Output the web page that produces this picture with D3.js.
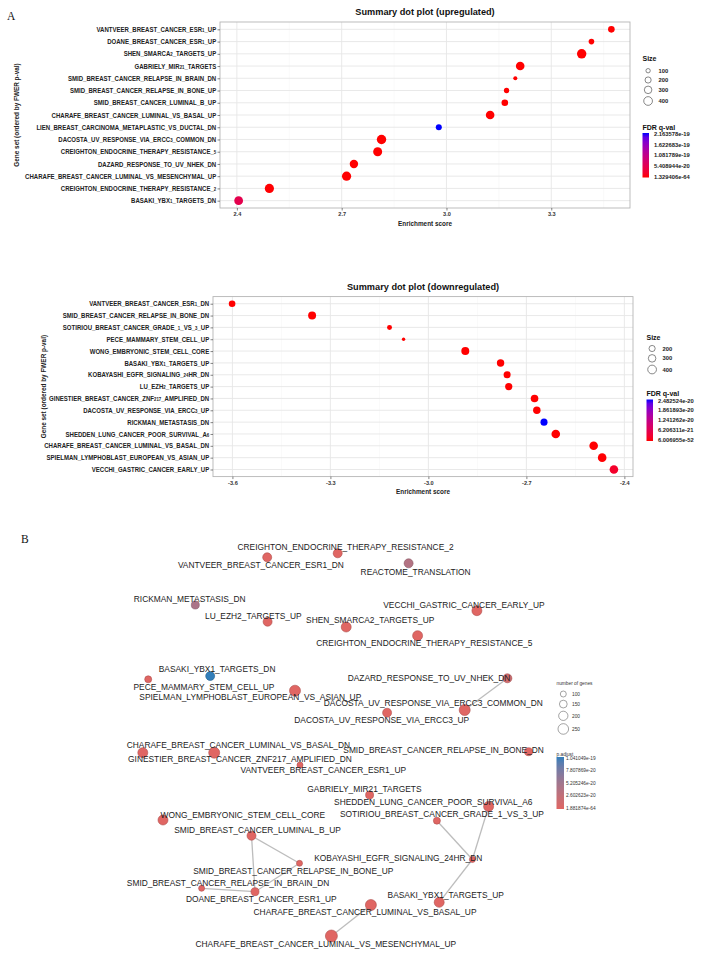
<!DOCTYPE html>
<html><head><meta charset="utf-8">
<script src="https://cdn.jsdelivr.net/npm/d3@7"></script>
<style>body{margin:0;background:#fff;} svg{display:block;}</style>
</head><body><svg id="c" width="704" height="954"></svg>
<script>
// ---------------- DATA ----------------
const upSets = ["VANTVEER_BREAST_CANCER_ESR1_UP","DOANE_BREAST_CANCER_ESR1_UP","SHEN_SMARCA2_TARGETS_UP","GABRIELY_MIR21_TARGETS","SMID_BREAST_CANCER_RELAPSE_IN_BRAIN_DN","SMID_BREAST_CANCER_RELAPSE_IN_BONE_UP","SMID_BREAST_CANCER_LUMINAL_B_UP","CHARAFE_BREAST_CANCER_LUMINAL_VS_BASAL_UP","LIEN_BREAST_CARCINOMA_METAPLASTIC_VS_DUCTAL_DN","DACOSTA_UV_RESPONSE_VIA_ERCC3_COMMON_DN","CREIGHTON_ENDOCRINE_THERAPY_RESISTANCE_5","DAZARD_RESPONSE_TO_UV_NHEK_DN","CHARAFE_BREAST_CANCER_LUMINAL_VS_MESENCHYMAL_UP","CREIGHTON_ENDOCRINE_THERAPY_RESISTANCE_2","BASAKI_YBX1_TARGETS_DN"];
const upES = [3.472, 3.415, 3.387, 3.211, 3.197, 3.172, 3.167, 3.125, 2.978, 2.814, 2.803, 2.735, 2.714, 2.493, 2.405];
const upSize = [230, 165, 465, 390, 85, 150, 230, 390, 190, 465, 425, 370, 445, 445, 405];
const upFDR = [1.329406e-64, 3.1e-45, 2.2e-38, 6.5e-33, 4.0e-30, 1.2e-28, 8.7e-27, 3.3e-25, 2.163578e-19, 1.5e-24, 4.4e-23, 9.8e-23, 2.1e-22, 6.0e-22, 5.2e-20];
const upTicks = [2.4, 2.7, 3.0, 3.3];
const upMinor = [2.55, 2.85, 3.15, 3.45];
const upSizeBreaks = [100, 200, 300, 400];
const upFDRLabels = ["2.163578e-19","1.622683e-19","1.081789e-19","5.408944e-20","1.329406e-64"];

const downSets = ["VANTVEER_BREAST_CANCER_ESR1_DN","SMID_BREAST_CANCER_RELAPSE_IN_BONE_DN","SOTIRIOU_BREAST_CANCER_GRADE_1_VS_3_UP","PECE_MAMMARY_STEM_CELL_UP","WONG_EMBRYONIC_STEM_CELL_CORE","BASAKI_YBX1_TARGETS_UP","KOBAYASHI_EGFR_SIGNALING_24HR_DN","LU_EZH2_TARGETS_UP","GINESTIER_BREAST_CANCER_ZNF217_AMPLIFIED_DN","DACOSTA_UV_RESPONSE_VIA_ERCC3_UP","RICKMAN_METASTASIS_DN","SHEDDEN_LUNG_CANCER_POOR_SURVIVAL_A6","CHARAFE_BREAST_CANCER_LUMINAL_VS_BASAL_DN","SPIELMAN_LYMPHOBLAST_EUROPEAN_VS_ASIAN_UP","VECCHI_GASTRIC_CANCER_EARLY_UP"];
const downES = [-3.601, -3.356, -3.119, -3.076, -2.887, -2.779, -2.759, -2.754, -2.675, -2.668, -2.646, -2.610, -2.494, -2.468, -2.432];
const downSize = [230, 335, 130, 60, 335, 290, 260, 275, 305, 290, 260, 390, 390, 390, 390];
const downFDR = [6.006955e-52, 2.4e-40, 3.3e-35, 8.1e-31, 5.5e-28, 2.0e-26, 7.4e-26, 9.1e-26, 3.8e-24, 4.6e-24, 2.482524e-20, 1.9e-23, 6.2e-23, 1.1e-22, 2.6e-21];
const downTicks = [-3.6, -3.3, -3.0, -2.7, -2.4];
const downMinor = [-3.45, -3.15, -2.85, -2.55];
const downSizeBreaks = [200, 300, 400];
const downFDRLabels = ["2.482524e-20","1.861893e-20","1.241262e-20","6.206311e-21","6.006955e-52"];

// network (enrichment map) : layout coordinates (arbitrary layout units)
const netNames = ["CREIGHTON_ENDOCRINE_THERAPY_RESISTANCE_2","VANTVEER_BREAST_CANCER_ESR1_DN","REACTOME_TRANSLATION","RICKMAN_METASTASIS_DN","LU_EZH2_TARGETS_UP","SHEN_SMARCA2_TARGETS_UP","VECCHI_GASTRIC_CANCER_EARLY_UP","CREIGHTON_ENDOCRINE_THERAPY_RESISTANCE_5","BASAKI_YBX1_TARGETS_DN","PECE_MAMMARY_STEM_CELL_UP","SPIELMAN_LYMPHOBLAST_EUROPEAN_VS_ASIAN_UP","DAZARD_RESPONSE_TO_UV_NHEK_DN","DACOSTA_UV_RESPONSE_VIA_ERCC3_COMMON_DN","DACOSTA_UV_RESPONSE_VIA_ERCC3_UP","CHARAFE_BREAST_CANCER_LUMINAL_VS_BASAL_DN","GINESTIER_BREAST_CANCER_ZNF217_AMPLIFIED_DN","SMID_BREAST_CANCER_RELAPSE_IN_BONE_DN","VANTVEER_BREAST_CANCER_ESR1_UP","GABRIELY_MIR21_TARGETS","SHEDDEN_LUNG_CANCER_POOR_SURVIVAL_A6","SOTIRIOU_BREAST_CANCER_GRADE_1_VS_3_UP","WONG_EMBRYONIC_STEM_CELL_CORE","SMID_BREAST_CANCER_LUMINAL_B_UP","KOBAYASHI_EGFR_SIGNALING_24HR_DN","SMID_BREAST_CANCER_RELAPSE_IN_BONE_UP","SMID_BREAST_CANCER_RELAPSE_IN_BRAIN_DN","DOANE_BREAST_CANCER_ESR1_UP","BASAKI_YBX1_TARGETS_UP","CHARAFE_BREAST_CANCER_LUMINAL_VS_BASAL_UP","CHARAFE_BREAST_CANCER_LUMINAL_VS_MESENCHYMAL_UP"];
const netX = [23.77, 16.72, 30.86, 9.53, 16.76, 24.62, 37.69, 31.76, 11.02, 4.82, 19.50, 40.74, 36.47, 28.71, 4.28, 11.42, 42.85, 20.00, 26.96, 38.86, 33.69, 6.30, 15.15, 37.24, 19.95, 10.16, 15.50, 33.92, 27.09, 23.14];
const netY = [1.33, 1.73, 2.33, 6.50, 8.17, 8.70, 7.07, 9.57, 13.60, 13.93, 15.07, 13.83, 17.00, 17.27, 21.27, 21.27, 21.17, 22.50, 25.50, 26.65, 28.07, 28.00, 29.57, 31.95, 32.33, 34.83, 35.17, 36.23, 36.50, 39.60];
const netLabelX = [24.55, 16.09, 31.56, 8.97, 15.33, 27.02, 36.39, 32.43, 11.71, 10.39, 15.03, 32.90, 33.33, 28.17, 13.84, 14.00, 34.36, 22.33, 26.44, 33.33, 34.19, 14.29, 15.75, 29.83, 19.32, 12.81, 16.13, 34.57, 26.50, 22.58];
const netLabelY = [0.73, 2.50, 3.17, 5.90, 7.57, 8.00, 6.50, 10.27, 12.93, 14.67, 15.73, 13.83, 16.27, 18.00, 20.50, 21.93, 21.00, 23.00, 24.93, 26.17, 27.40, 27.50, 29.00, 31.83, 33.07, 34.33, 35.90, 35.50, 37.17, 40.40];
const netSize = [190, 190, 190, 157, 190, 226, 226, 226, 190, 127, 266, 190, 266, 190, 226, 266, 157, 100, 157, 226, 127, 226, 190, 100, 100, 100, 157, 226, 266, 309];
const netPadj = [3.2e-30, 1.881874e-64, 3.8e-20, 4.4e-20, 2.1e-28, 5.0e-35, 6.1e-26, 2.2e-29, 1.041049e-19, 7.3e-27, 4.0e-24, 1.2e-20, 8.8e-28, 3.0e-25, 2.6e-23, 5.1e-26, 1.7e-22, 4.1e-40, 6.6e-31, 9.4e-24, 2.0e-24, 3.3e-26, 7.7e-29, 5.8e-25, 1.9e-28, 4.2e-29, 2.8e-44, 6.9e-25, 4.8e-26, 1.1e-22];
const netEdges = [
  ["DAZARD_RESPONSE_TO_UV_NHEK_DN","DACOSTA_UV_RESPONSE_VIA_ERCC3_COMMON_DN"],
  ["SMID_BREAST_CANCER_LUMINAL_B_UP","DOANE_BREAST_CANCER_ESR1_UP"],
  ["SMID_BREAST_CANCER_LUMINAL_B_UP","SMID_BREAST_CANCER_RELAPSE_IN_BONE_UP"],
  ["SMID_BREAST_CANCER_RELAPSE_IN_BONE_UP","DOANE_BREAST_CANCER_ESR1_UP"],
  ["SMID_BREAST_CANCER_RELAPSE_IN_BRAIN_DN","DOANE_BREAST_CANCER_ESR1_UP"],
  ["SOTIRIOU_BREAST_CANCER_GRADE_1_VS_3_UP","KOBAYASHI_EGFR_SIGNALING_24HR_DN"],
  ["SHEDDEN_LUNG_CANCER_POOR_SURVIVAL_A6","KOBAYASHI_EGFR_SIGNALING_24HR_DN"],
  ["KOBAYASHI_EGFR_SIGNALING_24HR_DN","BASAKI_YBX1_TARGETS_UP"],
  ["CHARAFE_BREAST_CANCER_LUMINAL_VS_BASAL_UP","CHARAFE_BREAST_CANCER_LUMINAL_VS_MESENCHYMAL_UP"]
];
const netSizeBreaks = [100, 150, 200, 250];
const netPadjLabels = ["1.041049e-19","7.807869e-20","5.205246e-20","2.602623e-20","1.881874e-64"];

// ---------------- DRAWING ----------------
const FONT = '"Liberation Sans", Arial, Helvetica, sans-serif';
const svg = d3.select("#c");
const defs = svg.append("defs");

function addText(parent, s, x, y, o = {}) {
  const t = parent.append("text")
    .attr("transform", `translate(${x},${y})` + (o.rot ? ` rotate(${o.rot})` : "") + ` scale(${o.sx || 1},1)`)
    .attr("text-anchor", o.anchor || "start")
    .attr("font-size", o.size || 8)
    .attr("font-weight", o.weight || "normal")
    .attr("fill", o.fill || "#222")
    .attr("font-family", o.family || FONT);
  if (o.dy) t.attr("dy", o.dy);
  t.text(s);
  return t;
}
function smallDigits(t, s, size) {
  t.text(null);
  s.split(/(\d+)/).forEach(p => {
    if (!p) return;
    const ts = t.append("tspan").text(p);
    if (/^\d+$/.test(p)) ts.attr("font-size", size * 0.72);
  });
}
let gradId = 0;
function colorbar(g, interp, x, y0, y1, w, labels, lx, opts) {
  const id = "grad" + (gradId++);
  const lg = defs.append("linearGradient").attr("id", id).attr("x1", 0).attr("y1", 1).attr("x2", 0).attr("y2", 0);
  d3.range(0, 1.0001, 0.1).forEach(t => lg.append("stop").attr("offset", t).attr("stop-color", interp(t)));
  g.append("rect").attr("x", x).attr("y", y0).attr("width", w).attr("height", y1 - y0).attr("fill", `url(#${id})`);
  const vals = labels.map(Number);
  const ys = d3.scaleLinear().domain(d3.extent(vals)).range([y1 - 1, y0 + 1]);
  labels.forEach((l, i) => {
    addText(g, l, lx, ys(vals[i]), Object.assign({dy: "0.35em"}, opts));
  });
}

function dotPlot(o) {
  const g = svg.append("g");
  const ext = d3.extent(o.es), pad = (ext[1] - ext[0]) * 0.05;
  const x = d3.scaleLinear().domain([ext[0] - pad, ext[1] + pad]).range([o.L, o.R]);
  const y = d3.scalePoint().domain(o.sets).range([o.T, o.B]).padding(0.6);
  const r = d3.scaleSqrt().domain([0, 400]).range([0, 4.36]);
  const fext = d3.extent(o.fdr);
  const col = d3.scaleLinear().domain(fext).range(["red", "blue"]).interpolate(d3.interpolateLab);

  g.append("rect").attr("x", o.L).attr("y", o.T).attr("width", o.R - o.L).attr("height", o.B - o.T).attr("fill", "#fff");
  o.minor.forEach(v => g.append("line").attr("x1", x(v)).attr("x2", x(v)).attr("y1", o.T).attr("y2", o.B)
    .attr("stroke", "#f2f2f2").attr("stroke-width", 0.5));
  o.ticks.forEach(v => g.append("line").attr("x1", x(v)).attr("x2", x(v)).attr("y1", o.T).attr("y2", o.B)
    .attr("stroke", "#e6e6e6").attr("stroke-width", 0.9));
  o.sets.forEach(s => g.append("line").attr("x1", o.L).attr("x2", o.R).attr("y1", y(s)).attr("y2", y(s))
    .attr("stroke", "#e6e6e6").attr("stroke-width", 0.9));

  const data = o.sets.map((s, i) => ({s, es: o.es[i], size: o.size[i], fdr: o.fdr[i]}));
  g.selectAll("circle.pt").data(data).join("circle").attr("class", "pt")
    .attr("cx", d => x(d.es)).attr("cy", d => y(d.s)).attr("r", d => r(d.size))
    .attr("fill", d => col(d.fdr));

  g.append("rect").attr("x", o.L).attr("y", o.T).attr("width", o.R - o.L).attr("height", o.B - o.T)
    .attr("fill", "none").attr("stroke", "#b5b5b5").attr("stroke-width", 0.9);

  // axes
  const fmt = v => d3.format(".1f")(v).replace("−", "-");
  const xa = g.append("g").attr("transform", `translate(0,${o.B})`)
    .call(d3.axisBottom(x).tickValues(o.ticks).tickSize(2.5).tickPadding(1.5).tickFormat(fmt));
  xa.select(".domain").remove();
  xa.selectAll("line").attr("stroke", "#333").attr("stroke-width", 0.6);
  xa.selectAll("text").attr("font-size", 5.6).attr("font-weight", "bold").attr("font-family", FONT).attr("fill", "#333");

  const ya = g.append("g").attr("transform", `translate(${o.L},0)`)
    .call(d3.axisLeft(y).tickSize(2.5).tickPadding(1.3));
  ya.select(".domain").remove();
  ya.selectAll("line").attr("stroke", "#333").attr("stroke-width", 0.6);
  const ysz = 6.5, ysx = 0.93;
  ya.selectAll("text").each(function(d) {
    const t = d3.select(this);
    t.attr("font-size", ysz).attr("font-weight", "bold").attr("font-family", FONT).attr("fill", "#222")
      .attr("x", -3.8 / ysx).attr("transform", `scale(${ysx},1)`);
    smallDigits(t, d, ysz);
  });

  addText(g, o.title, (o.L + o.R) / 2, o.T - 7, {size: 9.2, weight: "bold", anchor: "middle", fill: "#111"});
  addText(g, "Enrichment score", (o.L + o.R) / 2, o.B + 17.5, {size: 6.4, weight: "bold", anchor: "middle", fill: "#222"});
  addText(g, "Gene set (ordered by FWER p-val)", o.ytx, (o.T + o.B) / 2, {size: 6.4, weight: "bold", anchor: "middle", rot: -90, fill: "#222"});

  // size legend
  const lg = g.append("g");
  addText(lg, "Size", o.legX, o.sizeTitleY, {size: 7, weight: "bold", dy: "0.35em", fill: "#111"});
  let cy = o.sizeY0;
  o.sizeBreaks.forEach((b, i) => {
    if (i > 0) cy += Math.max(9.3, r(o.sizeBreaks[i - 1]) + r(b) + 3);
    lg.append("circle").attr("cx", o.legX + 5.6).attr("cy", cy).attr("r", r(b))
      .attr("fill", "#fff").attr("stroke", "#555").attr("stroke-width", 0.7);
    addText(lg, String(b), o.legX + 16, cy, {size: 5.8, weight: "bold", dy: "0.35em", fill: "#222"});
  });
  addText(lg, "FDR q-val", o.legX, o.fdrTitleY, {size: 7, weight: "bold", dy: "0.35em", fill: "#111"});
  colorbar(lg, d3.interpolateLab("red", "blue"), o.legX, o.barY0, o.barY1, 6.5, o.fdrLabels, o.legX + 11.5,
    {size: 5.8, weight: "bold", fill: "#222"});
}

// Panel letters
addText(svg, "A", 7, 19.5, {size: 11.5, family: '"Liberation Serif", "Times New Roman", serif', fill: "#111"});
addText(svg, "B", 21, 543, {size: 11.5, family: '"Liberation Serif", "Times New Roman", serif', fill: "#111"});

dotPlot({sets: upSets, es: upES, size: upSize, fdr: upFDR, ticks: upTicks, minor: upMinor,
  L: 220, R: 630, T: 22, B: 208, title: "Summary dot plot (upregulated)", ytx: 19,
  legX: 642.5, sizeTitleY: 58.7, sizeY0: 70.7, sizeBreaks: upSizeBreaks,
  fdrTitleY: 127.5, barY0: 133, barY1: 177.5, fdrLabels: upFDRLabels});

dotPlot({sets: downSets, es: downES, size: downSize, fdr: downFDR, ticks: downTicks, minor: downMinor,
  L: 213, R: 633, T: 296.6, B: 476.6, title: "Summary dot plot (downregulated)", ytx: 46,
  legX: 646.5, sizeTitleY: 337.7, sizeY0: 348.5, sizeBreaks: downSizeBreaks,
  fdrTitleY: 393.3, barY0: 399.5, barY1: 441, fdrLabels: downFDRLabels});

// ---------------- NETWORK ----------------
(function network() {
  const g = svg.append("g");
  const xs = d3.scaleLinear().domain([0, 10]).range([100, 200]);
  const ys = d3.scaleLinear().domain([0, 10]).range([540, 640]);
  const rN = d3.scalePow().exponent(0.5).domain([100, 250]).range([3, 5.3]);
  const pext = d3.extent(netPadj);
  const colN = d3.scaleLinear().domain(pext).range(["#e06663", "#327eba"]).interpolate(d3.interpolateLab);
  const nodes = netNames.map((n, i) => ({n, x: netX[i], y: netY[i], lx: netLabelX[i], ly: netLabelY[i], size: netSize[i], p: netPadj[i]}));
  const byName = new Map(nodes.map(d => [d.n, d]));

  g.selectAll("line.edge").data(netEdges).join("line").attr("class", "edge")
    .attr("x1", e => xs(byName.get(e[0]).x)).attr("y1", e => ys(byName.get(e[0]).y))
    .attr("x2", e => xs(byName.get(e[1]).x)).attr("y2", e => ys(byName.get(e[1]).y))
    .attr("stroke", "#bdbdbd").attr("stroke-width", 1.3);

  g.selectAll("circle.node").data(nodes).join("circle").attr("class", "node")
    .attr("cx", d => xs(d.x)).attr("cy", d => ys(d.y)).attr("r", d => rN(d.size))
    .attr("fill", d => colN(d.p)).attr("stroke", d => d3.color(colN(d.p)).darker(0.7)).attr("stroke-width", 0.6);

  nodes.forEach(d => addText(g, d.n, xs(d.lx), ys(d.ly), {size: 8.4, anchor: "middle", dy: "0.35em", fill: "#222"}));

  // legends
  const lg = g.append("g");
  const lx = 556.5;
  addText(lg, "number of genes", lx, 683.3, {size: 4.8, dy: "0.35em", fill: "#333"});
  let cy = 694;
  netSizeBreaks.forEach((b, i) => {
    if (i > 0) cy += rN(netSizeBreaks[i - 1]) + rN(b) + 3.2;
    lg.append("circle").attr("cx", lx + 6.8).attr("cy", cy).attr("r", rN(b))
      .attr("fill", "#fff").attr("stroke", "#666").attr("stroke-width", 0.6);
    addText(lg, String(b), lx + 15.5, cy, {size: 4.8, dy: "0.35em", fill: "#333"});
  });
  addText(lg, "p.adjust", lx, 754, {size: 4.8, dy: "0.35em", fill: "#333"});
  colorbar(lg, d3.interpolateLab("#e06663", "#327eba"), lx, 757, 809, 7.5, netPadjLabels, lx + 9.5,
    {size: 4.8, fill: "#333"});
})();
</script></body></html>
